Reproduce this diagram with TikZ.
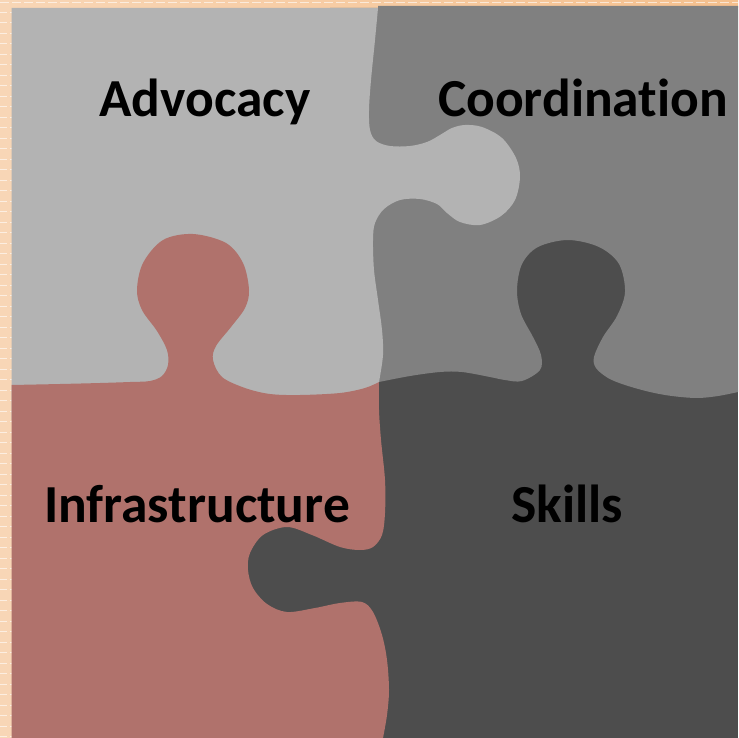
\documentclass[tikz,border=0pt]{standalone}
\usepackage{fontspec}
\setmainfont{Carlito}[Ligatures=NoCommon]
\definecolor{peach}{RGB}{248,214,182}
\definecolor{peachtop}{RGB}{245,192,142}
\definecolor{advgray}{RGB}{179,179,179}
\definecolor{coordgray}{RGB}{128,128,128}
\definecolor{skillgray}{RGB}{77,77,77}
\definecolor{infrarose}{RGB}{176,114,108}

\begin{document}
\begin{tikzpicture}[
    x = 1pt, y = -1pt,
    lbl/.style = {font=\fontsize{53.5}{60}\selectfont\bfseries, text=black, anchor=base, inner sep=0pt},
    ]
  \useasboundingbox (0,0) rectangle (738,738);

  % slide background
  \fill[peach] (0,0) rectangle (738,738);
  \shade[left color=peach, right color=peachtop] (0,0) rectangle (738,8);
  \draw[white, opacity=.6, line width=.8pt, dash pattern=on 9pt off 3pt] (0,2.5) -- (738,2.5);
  \foreach \y in {12,22.5,...,738}
    \draw[white, opacity=.6, line width=.8pt, dash pattern=on 7pt off 3pt] (0,\y) -- (11.5,\y);

  % skills (base layer)
  \fill[skillgray] (230,220) rectangle (738,738);

  % coordination
  \fill[coordgray] (330,8) -- (378,8) -- (378,6) -- (738,6) -- plot[smooth, tension=.55] coordinates {
    (738,392) (718,396) (697,398) (672,396) (650,392) (625,385) (608,378)
    (596,368) (594,357) (603,337) (617,316) (625,292) (619,264) (599,247)
    (568,240) (538,247) (522,264) (517,290) (521,314) (533,337) (541,355)
    (540,370) (522,381) (505,380) (490,377) (462,372) (440,372) (410,376)
    (379,382)} -- (330,382) -- cycle;

  % advocacy
  \fill[advgray] (11.5,8) -- plot[smooth, tension=.55] coordinates {
    (378,8) (375,40) (371,80) (369,110) (370,130) (376,141) (390,146)
    (410,146) (427,142) (440,135) (452,128) (465,125) (482,127) (502,138)
    (516,158) (520,177) (515,200) (501,216) (480,225) (460,222) (447,213)
    (437,204) (420,199) (400,200) (384,209) (375,223) (373,240) (374,270)
    (378,300) (382,330) (383,355) (379,382)} -- (370,420) -- (11.5,420) -- cycle;

  % infrastructure
  \fill[infrarose] plot[smooth, tension=.55] coordinates {
    (11.5,385) (60,384) (100,383) (130,382) (150,381) (162,376) (168,365)
    (167,350) (157,331) (142,310) (137,290) (143,263) (163,240) (193,234)
    (226,243) (243,263) (249,290) (245,308) (231,327) (216,346) (213,360)
    (222,377) (245,388) (270,394) (300,395) (340,393) (365,388) (379,382)}
    -- plot[smooth, tension=.55] coordinates {
    (379,382) (379,410) (381,440) (385,480) (385,513) (382,535) (373,547)
    (360,550) (340,547) (312,535) (287,527) (263,535) (250,553) (248,570)
    (253,588) (267,604) (287,612) (315,608) (340,603) (362,602) (373,612)
    (382,635) (387,660) (389,690) (387,715) (383,738)}
    -- (11.5,738) -- cycle;

  % labels
  \node[lbl] (advocacy) at (205,117) {Advocacy};
  \node[lbl] (coordination) at (583,117) {Coordination};
  \node[lbl] (infrastructure) at (197,522) {Infrastructure};
  \node[lbl] (skills) at (567,522) {Skills};
\end{tikzpicture}
\end{document}
